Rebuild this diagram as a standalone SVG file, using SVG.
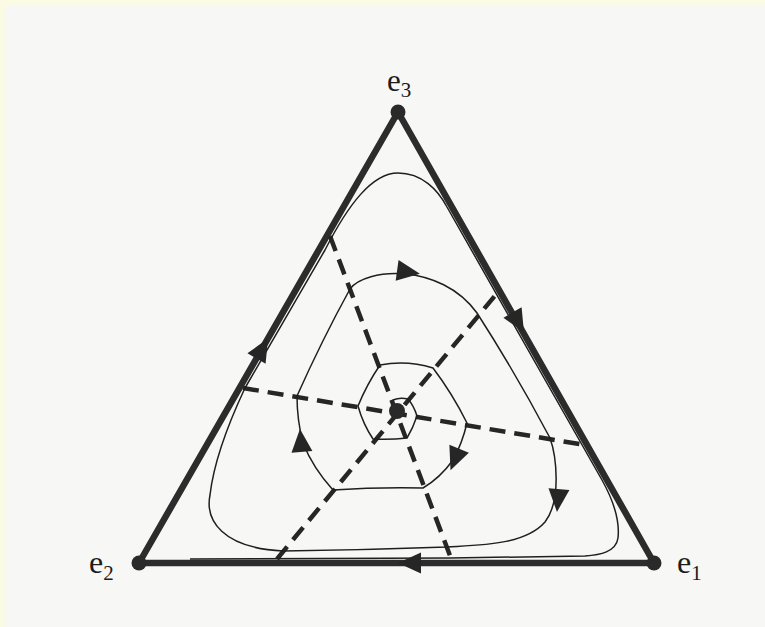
<svg xmlns="http://www.w3.org/2000/svg" xmlns:xlink="http://www.w3.org/1999/xlink" width="765" height="627" viewBox="0 0 765 627">
<style>
.edge{fill:none;stroke:#2c2c2c;stroke-width:6.5;stroke-linejoin:round;stroke-linecap:round}
.orbit{fill:none;stroke:#1f1f1f;stroke-width:1.5;stroke-linejoin:round}
.dash{fill:none;stroke:#262626;stroke-width:4.5;stroke-dasharray:16 9}
.ah{fill:#262626}
.dot{fill:#2a2a2a}
.lbl{font-family:"Liberation Serif","Times New Roman",serif;fill:#1c1c1c}
</style>
<defs>
<path id="ah" d="M12,0 L-11,-10.5 L-11,10.5 Z"/>
</defs>
<rect x="0" y="0" width="765" height="627" fill="#fbfbe4"/>
<rect x="5" y="6" width="760" height="621" fill="#f7f7f5"/>

<g id="simplex">
<path class="edge" d="M139,563 L398,112 L654,563 Z"/>
</g>

<g id="connectors">
<g id="separatrices">
<path class="dash" d="M330,236 L452,561"/>
<path class="dash" d="M243,388 L585,445"/>
<path class="dash" d="M277,559 L498,292"/>
</g>
<path id="spiral" class="orbit" d="M393,400 Q400,397 408,399 Q414,406 417,416 Q413,428 407,438 Q390,440 373,439 Q363,424 358,406 Q367,384 380,365 Q407,360 433,368 Q452,393 467,423 Q462,444 453,460 Q440,478 423,488 Q378,487 333,490 Q313,468 303,443 Q297,420 297,396 Q322,340 350,289 C365,268 440,262 477,313 Q515,372 550,438 C556,455 562,500 545,522 C525,545 480,545 447,547 Q365,550 283,551 C222,548 205,520 210,495 C214,460 230,420 245,388 L325,250 C348,205 372,173 398,173 C422,173 438,190 447,207 L602,480 C612,498 620,520 618,538 C616,552 600,555 585,556 L450,558 L190,559"/>
<g id="arrows">
<use xlink:href="#ah" class="ah" transform="translate(262,349) rotate(-60)"/>
<use xlink:href="#ah" class="ah" transform="translate(518,322) rotate(60)"/>
<use xlink:href="#ah" class="ah" transform="translate(410,563) rotate(180)"/>
<use xlink:href="#ah" class="ah" transform="translate(408,272) rotate(8)"/>
<use xlink:href="#ah" class="ah" transform="translate(455,459) rotate(112)"/>
<use xlink:href="#ah" class="ah" transform="translate(558,500) rotate(95)"/>
<use xlink:href="#ah" class="ah" transform="translate(301,441) rotate(-95)"/>
</g>
</g>

<g id="node-e3">
<circle class="dot" cx="398" cy="112" r="7.5"/>
<text class="lbl" x="387" y="91" font-size="31">e<tspan font-size="21" dy="6">3</tspan></text>
</g>
<g id="node-e2">
<circle class="dot" cx="139" cy="563" r="7.5"/>
<text class="lbl" x="89" y="573" font-size="32">e<tspan font-size="21" dy="7">2</tspan></text>
</g>
<g id="node-e1">
<circle class="dot" cx="654" cy="563" r="7.5"/>
<text class="lbl" x="677" y="573" font-size="32">e<tspan font-size="21" dy="7">1</tspan></text>
</g>
<g id="node-center">
<circle class="dot" cx="397" cy="411" r="8"/>
</g>
</svg>
